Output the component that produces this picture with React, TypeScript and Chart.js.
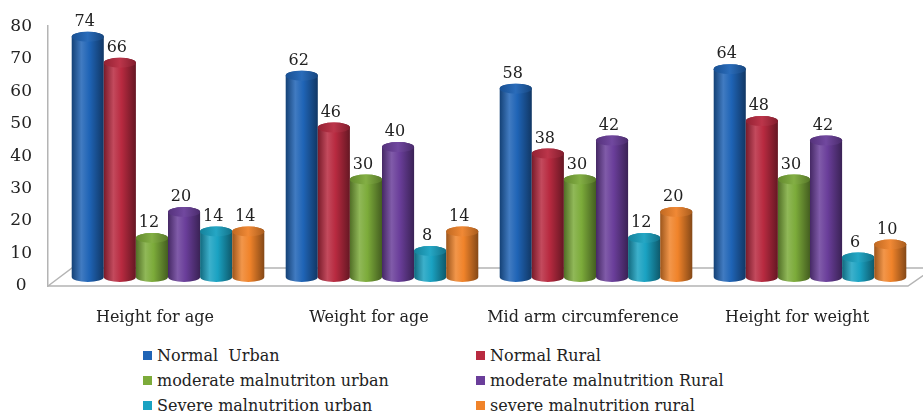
import React, { useEffect, useRef } from "react";
import { Chart, registerables } from "chart.js";

Chart.register(...registerables);

const categories = ["Height for age", "Weight for age", "Mid arm circumference", "Height for weight"];
const seriesNames = [
  "Normal  Urban",
  "Normal Rural",
  "moderate malnutriton urban",
  "moderate malnutrition Rural",
  "Severe malnutrition urban",
  "severe malnutrition rural",
];
const normalUrban = [74, 62, 58, 64];
const normalRural = [66, 46, 38, 48];
const moderateUrban = [12, 30, 30, 30];
const moderateRural = [20, 40, 42, 42];
const severeUrban = [14, 8, 12, 6];
const severeRural = [14, 14, 20, 10];
const seriesValues = [normalUrban, normalRural, moderateUrban, moderateRural, severeUrban, severeRural];
const seriesColors = ["#1F64B6", "#B82A40", "#7CAB3A", "#6A3E9A", "#1AA2C2", "#F0832A"];
const yMin = 0;
const yMax = 80;
const yStep = 10;

const FONT = "'DejaVu Serif', serif";
const DX = 13;
const DY = -9;

function shade(hex: string, f: number): string {
  const n = parseInt(hex.slice(1), 16);
  let r = (n >> 16) & 255, g = (n >> 8) & 255, b = n & 255;
  if (f < 0) {
    r = Math.round(r * (1 + f)); g = Math.round(g * (1 + f)); b = Math.round(b * (1 + f));
  } else {
    r = Math.round(r + (255 - r) * f); g = Math.round(g + (255 - g) * f); b = Math.round(b + (255 - b) * f);
  }
  return `rgb(${r},${g},${b})`;
}

const floorPlugin = {
  id: "floor3d",
  beforeDatasetsDraw(chart: any) {
    const { ctx, chartArea } = chart;
    const y0 = chart.scales.y.getPixelForValue(0);
    ctx.save();
    ctx.strokeStyle = "#b4b4b4";
    ctx.lineWidth = 1.5;
    ctx.beginPath();
    ctx.moveTo(chartArea.left, y0);
    ctx.lineTo(chartArea.right + 4, y0);
    ctx.lineTo(chartArea.right + 4 + 2 * DX, y0 + 2 * DY);
    ctx.moveTo(chartArea.left, y0);
    ctx.lineTo(chartArea.left + 2 * DX - 2, y0 + 2 * DY);
    ctx.lineTo(chartArea.right + 40, y0 + 2 * DY);
    ctx.stroke();
    ctx.restore();
  },
};

const cylinderPlugin = {
  id: "cylinders",
  afterDatasetsDraw(chart: any) {
    const { ctx } = chart;
    ctx.save();
    chart.data.datasets.forEach((ds: any, di: number) => {
      const meta = chart.getDatasetMeta(di);
      const color = seriesColors[di];
      meta.data.forEach((el: any, i: number) => {
        const w = el.width;
        const rx = w / 2;
        const ry = 5;
        const cx = el.x + DX;
        const top = el.y + DY;
        const bottom = el.base + DY;
        const grad = ctx.createLinearGradient(cx - rx, 0, cx + rx, 0);
        grad.addColorStop(0, shade(color, -0.35));
        grad.addColorStop(0.3, shade(color, 0.15));
        grad.addColorStop(0.55, color);
        grad.addColorStop(1, shade(color, -0.45));
        ctx.beginPath();
        ctx.moveTo(cx - rx, top);
        ctx.lineTo(cx - rx, bottom);
        ctx.ellipse(cx, bottom, rx, ry, 0, Math.PI, 0, true);
        ctx.lineTo(cx + rx, top);
        ctx.ellipse(cx, top, rx, ry, 0, 0, Math.PI, true);
        ctx.closePath();
        ctx.fillStyle = grad;
        ctx.fill();
        const capGrad = ctx.createLinearGradient(cx - rx, top, cx + rx, top);
        capGrad.addColorStop(0, shade(color, -0.2));
        capGrad.addColorStop(0.5, shade(color, 0.05));
        capGrad.addColorStop(1, shade(color, -0.3));
        ctx.beginPath();
        ctx.ellipse(cx, top, rx, ry, 0, 0, Math.PI * 2);
        ctx.fillStyle = capGrad;
        ctx.fill();
        ctx.fillStyle = "#222";
        ctx.font = `16px ${FONT}`;
        ctx.textAlign = "center";
        ctx.textBaseline = "alphabetic";
        ctx.fillText(String(ds.data[i]), cx - 3, top - 11);
      });
    });
    ctx.restore();
  },
};

export default function App() {
  const ref = useRef<HTMLCanvasElement | null>(null);
  useEffect(() => {
    if (!ref.current) return;
    const chart = new Chart(ref.current, {
      type: "bar",
      data: {
        labels: categories,
        datasets: seriesNames.map((name, i) => ({
          label: name,
          data: seriesValues[i],
          backgroundColor: "rgba(0,0,0,0)",
          borderWidth: 0,
          categoryPercentage: 0.9,
          barPercentage: 1.0,
        })),
      },
      options: {
        animation: false,
        responsive: false,
        maintainAspectRatio: false,
        layout: { padding: { top: 25, right: 19, left: 0, bottom: 0 } },
        plugins: { legend: { display: false }, tooltip: { enabled: false } },
        scales: {
          x: {
            grid: { display: false },
            border: { display: false },
            ticks: { color: "#222", font: { family: FONT, size: 16 }, padding: 14, maxRotation: 0 },
            afterFit: (s: any) => { s.height = 54; },
          },
          y: {
            min: yMin,
            max: yMax,
            grid: { display: false, drawTicks: false },
            border: { display: true, color: "#b4b4b4", width: 1.5 },
            ticks: { stepSize: yStep, color: "#222", font: { family: FONT, size: 17 }, padding: 16, crossAlign: "center" },
            afterFit: (s: any) => { s.width = 48; },
          },
        },
      },
      plugins: [floorPlugin, cylinderPlugin],
    });
    return () => chart.destroy();
  }, []);

  const legendRow = (i: number) => (
    <div style={{ display: "flex", alignItems: "center", height: 25 }}>
      <span style={{ display: "inline-block", width: 9, height: 9, background: seriesColors[i], marginRight: 5 }} />
      <span>{seriesNames[i].replace(/ /g, "\u00a0")}</span>
    </div>
  );

  return (
    <div style={{ position: "fixed", left: 0, top: 0, width: 923, height: 415, background: "#fff", overflow: "hidden" }}>
      <canvas ref={ref} width={923} height={340} style={{ display: "block" }} />
      <div style={{ position: "absolute", left: 143, top: 343, fontFamily: FONT, fontSize: 16, color: "#222", lineHeight: "25px" }}>
        {legendRow(0)}
        {legendRow(2)}
        {legendRow(4)}
      </div>
      <div style={{ position: "absolute", left: 476, top: 343, fontFamily: FONT, fontSize: 16, color: "#222", lineHeight: "25px" }}>
        {legendRow(1)}
        {legendRow(3)}
        {legendRow(5)}
      </div>
    </div>
  );
}
